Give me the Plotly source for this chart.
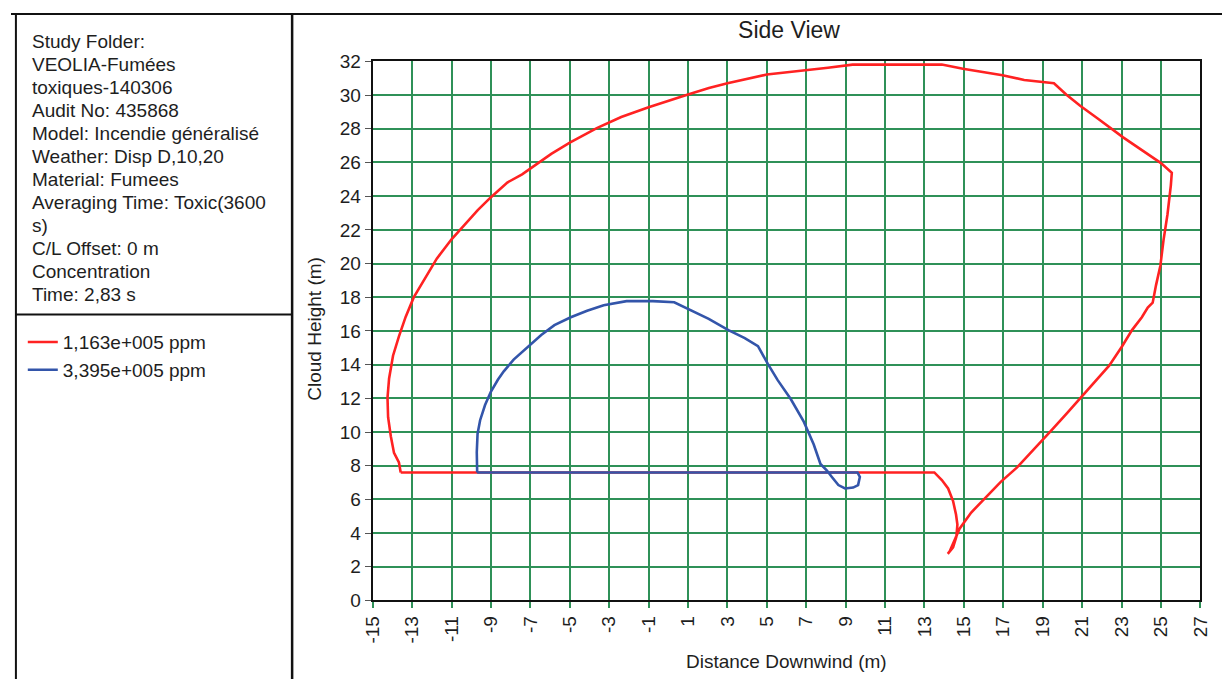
import plotly.graph_objects as go

# ---------------- data ----------------
red_name = "1,163e+005 ppm"
red_x = [-13.58, -13.67, -13.92, -14.08, -14.22, -14.25, -14.17, -13.97, -13.67, -13.33,
         -12.92, -12.33, -11.75, -11.0, -10.33, -9.67, -9.0, -8.17, -7.42, -5.94,
         -5.0, -3.63, -2.39, -1.0, 1.0, 2.06, 3.0, 4.19, 5.0, 6.15,
         6.98, 8.1, 9.35, 13.88, 14.95, 15.92, 16.96, 18.06, 18.95, 19.57,
         20.19, 20.9, 21.79, 23.08, 25.0, 25.55, 25.5, 25.33, 25.13, 24.97,
         24.75, 24.58, 24.33, 24.03, 23.53, 23.03, 22.37, 21.87, 21.37, 20.87,
         20.2, 19.37, 18.53, 17.7, 16.87, 16.03, 15.37, 14.78, 14.53, 14.28,
         14.18, 14.45, 14.62, 14.67, 14.6, 14.45, 14.2, 13.88, 13.5, -13.58]
red_y = [7.6, 8.19, 8.76, 9.73, 10.88, 12.03, 13.18, 14.53, 15.68, 16.83,
         17.99, 19.14, 20.29, 21.44, 22.31, 23.17, 23.94, 24.81, 25.29, 26.51,
         27.18, 28.04, 28.7, 29.28, 30.04, 30.42, 30.7, 30.99, 31.22, 31.37,
         31.47, 31.62, 31.81, 31.81, 31.56, 31.37, 31.18, 30.9, 30.8, 30.7,
         30.04, 29.37, 28.61, 27.49, 25.96, 25.39, 24.63, 22.91, 21.39, 19.87,
         18.72, 17.68, 17.39, 16.81, 16.05, 15.09, 13.94, 13.27, 12.6, 11.93,
         11.07, 10.01, 8.96, 7.9, 7.04, 5.99, 5.22, 4.26, 3.59, 2.92,
         2.77, 3.15, 3.8, 4.5, 5.1, 5.9, 6.65, 7.15, 7.6, 7.6]

blue_name = "3,395e+005 ppm"
blue_x = [-9.7, -9.72, -9.68, -9.55, -9.3, -9.0, -8.65, -8.35, -7.85, -7.37,
          -6.95, -6.45, -5.78, -4.95, -4.12, -3.28, -2.12, -0.78, 0.3, 1.05,
          2.05, 3.05, 3.88, 4.55, 5.05, 5.55, 6.22, 6.88, 7.38, 7.72,
          8.05, 8.3, 8.63, 8.97, 9.38, 9.63, 9.72, 9.6, -9.7]
blue_y = [7.6, 8.8, 9.9, 10.7, 11.6, 12.4, 13.1, 13.6, 14.3, 14.8,
          15.2, 15.76, 16.34, 16.81, 17.2, 17.52, 17.77, 17.77, 17.7, 17.3,
          16.72, 16.05, 15.57, 15.1, 14.04, 13.08, 11.94, 10.6, 9.26, 8.1,
          7.71, 7.33, 6.85, 6.65, 6.7, 6.85, 7.33, 7.6, 7.6]

x_tick_vals = [-15, -13, -11, -9, -7, -5, -3, -1, 1, 3, 5, 7, 9, 11, 13, 15, 17, 19, 21, 23, 25, 27]
x_tick_text = ["-15", "-13", "-11", "-9", "-7", "-5", "-3", "-1", "1", "3", "5", "7", "9",
               "11", "13", "15", "17", "19", "21", "23", "25", "27"]

info_lines = ["Study Folder:", "VEOLIA-Fumées", "toxiques-140306", "Audit No: 435868",
              "Model: Incendie généralisé", "Weather: Disp D,10,20", "Material: Fumees",
              "Averaging Time: Toxic(3600", "s)", "C/L Offset: 0 m", "Concentration",
              "Time: 2,83 s"]

title_text = "Side View"
x_title = "Distance Downwind (m)"
y_title = "Cloud Height (m)"

# ---------------- layout helpers ----------------
W, H = 1232, 690
FONT = "Liberation Sans, Arial, sans-serif"
TXT = "#1e1e1e"
GRID = "#2f9158"


def px(x):
    return x / W


def py(y):
    return 1 - y / H


fig = go.Figure()
fig.add_trace(go.Scatter(x=red_x, y=red_y, mode="lines", name=red_name,
                         line=dict(color="#ff2222", width=2.6)))
fig.add_trace(go.Scatter(x=blue_x, y=blue_y, mode="lines", name=blue_name,
                         line=dict(color="#3355aa", width=2.6)))

annotations = []
for i, t in enumerate(info_lines):
    annotations.append(dict(text=t, x=px(19), y=py(32 + i * 23.8), xref="paper", yref="paper",
                            xanchor="left", yanchor="middle", showarrow=False,
                            font=dict(family=FONT, size=19, color=TXT)))
annotations.append(dict(text=x_title, x=px(789), y=py(672), xref="paper", yref="paper",
                        xanchor="center", yanchor="middle", showarrow=False,
                        font=dict(family=FONT, size=19, color=TXT)))
annotations.append(dict(text=y_title, x=px(309), y=py(329), xref="paper", yref="paper",
                        xanchor="center", yanchor="middle", showarrow=False, textangle=-90,
                        font=dict(family=FONT, size=19, color=TXT)))

shapes = [
    dict(type="line", xref="paper", yref="paper", x0=0, x1=1, y0=py(4), y1=py(4),
         line=dict(color="#111", width=2)),
    dict(type="line", xref="paper", yref="paper", x0=px(5), x1=px(5), y0=py(4), y1=0,
         line=dict(color="#111", width=2)),
    dict(type="line", xref="paper", yref="paper", x0=px(286), x1=px(286), y0=py(4), y1=0,
         line=dict(color="#111", width=2.5)),
    dict(type="line", xref="paper", yref="paper", x0=px(5), x1=px(286), y0=py(314), y1=py(314),
         line=dict(color="#111", width=2)),
]

fig.update_layout(
    autosize=True,
    margin=dict(l=0, r=0, t=0, b=0),
    paper_bgcolor="white", plot_bgcolor="white",
    font=dict(family=FONT, size=19, color=TXT),
    title=dict(text=title_text, x=px(789), y=py(30), xanchor="center", yanchor="middle",
               font=dict(family=FONT, size=23, color=TXT)),
    showlegend=True,
    legend=dict(x=px(12), y=py(323), xanchor="left", yanchor="top",
                bgcolor="rgba(0,0,0,0)", font=dict(family=FONT, size=19, color=TXT),
                itemwidth=30, tracegroupgap=0),
    annotations=annotations,
    shapes=shapes,
    xaxis=dict(domain=[px(368), px(1210)], range=[-15, 27],
               tickmode="array", tickvals=x_tick_vals, ticktext=x_tick_text,
               showgrid=True, gridcolor=GRID, gridwidth=1.6, zeroline=False,
               showline=True, linecolor="#111", linewidth=2, mirror=True,
               ticks="outside", ticklen=6, tickcolor=GRID, tickwidth=1.6,
               tickangle=-90, tickfont=dict(family=FONT, size=19, color=TXT)),
    yaxis=dict(domain=[py(609), py(53)], range=[0, 32], tick0=0, dtick=2,
               showgrid=True, gridcolor=GRID, gridwidth=1.6, zeroline=False,
               showline=True, linecolor="#111", linewidth=2, mirror=True,
               ticks="outside", ticklen=6, tickcolor="#555", tickwidth=1.4,
               tickfont=dict(family=FONT, size=19, color=TXT)),
)

# the figure div is pinned to the top-left corner of the window at full size
fig.write_html("out.html",
               default_width="%dpx;position:fixed;left:0;top:0" % W,
               default_height="%dpx" % H)
